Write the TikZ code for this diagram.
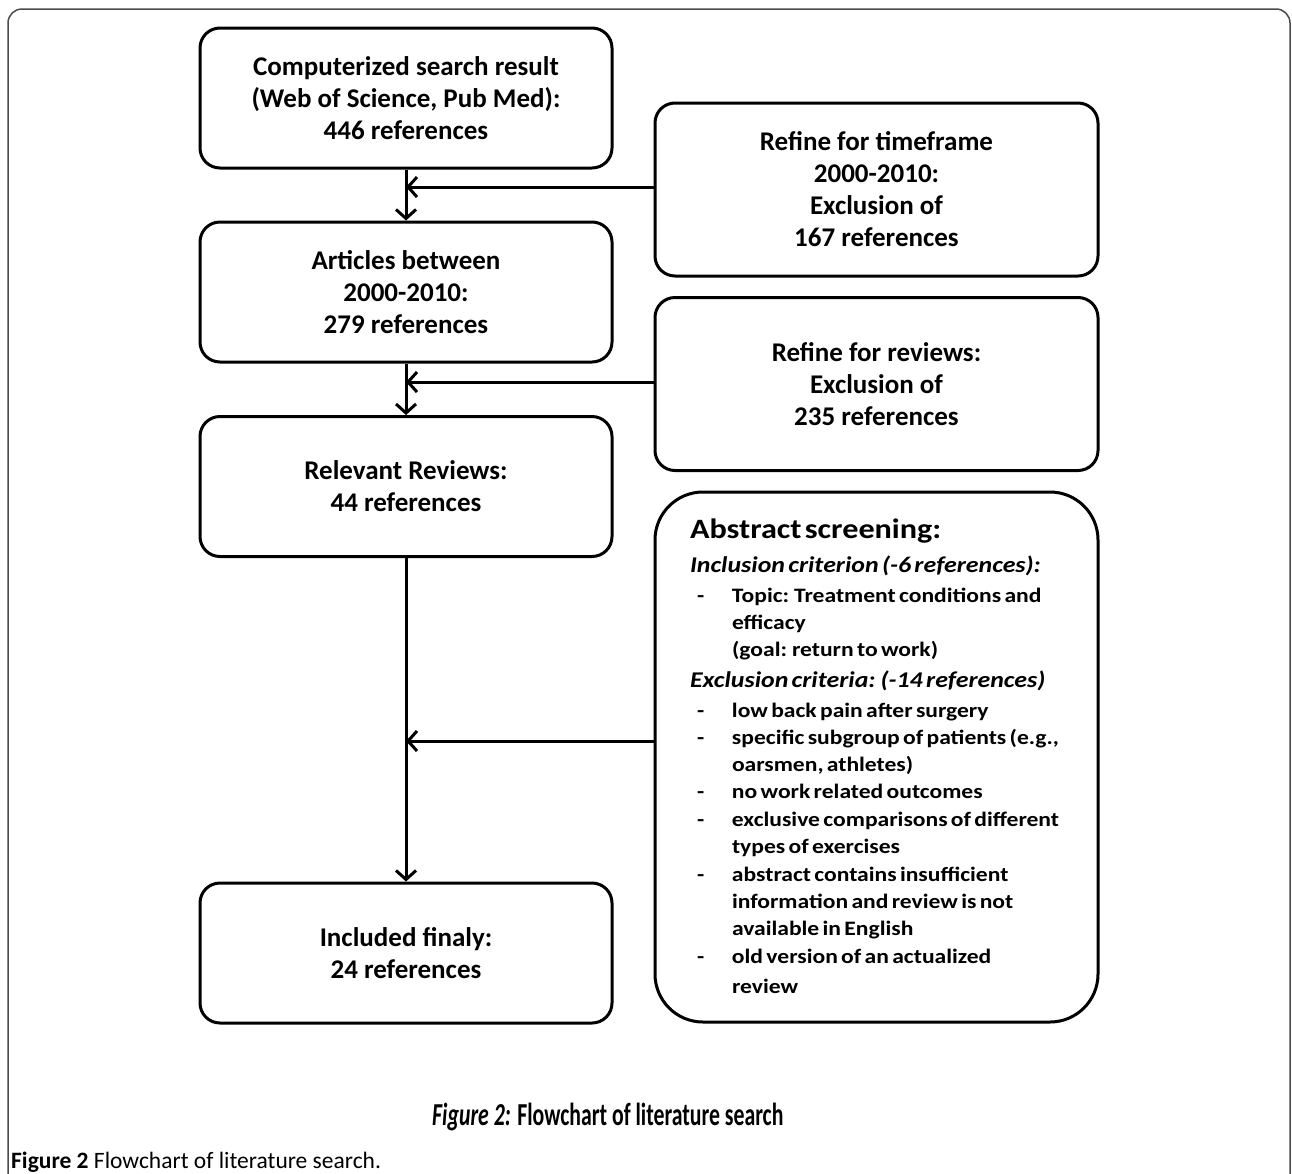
\documentclass[tikz,border=0pt]{standalone}
\usepackage{fontspec}
\setmainfont{Carlito}
\newfontfamily\capfont[FakeStretch=0.68]{Carlito}
\newfontfamily\absfont[FakeStretch=1.15]{Carlito}
\usetikzlibrary{arrows.meta}
\newcommand\itmline[2]{{\absfont\fontsize{20.5}{#1}\selectfont\bfseries\hspace*{7pt}\makebox[35pt][l]{-}#2\par}}
\newcommand\cntline[2]{{\absfont\fontsize{20.5}{#1}\selectfont\bfseries\hspace*{42pt}#2\par}}
\begin{document}
\begin{tikzpicture}[x=1pt,y=-1pt,
  box/.style={draw, line width=3pt, rounded corners=20pt, minimum width=412pt, minimum height=140pt,
    align=center, font=\fontsize{27}{32}\selectfont\bfseries, inner sep=0pt},
  rbox/.style={box, minimum width=443pt, minimum height=173pt},
  abox/.style={draw, line width=3pt, rounded corners=48pt, minimum height=530pt,
    text width=373pt, inner xsep=35pt, inner ysep=0pt, align=left},
  flow/.style={line width=3pt, -{Straight Barb[length=9pt,width=20pt,line width=3pt]}},
  frame/.style={line width=1.5pt, draw=black!70, rounded corners=14pt}
]
\useasboundingbox (0,0) rectangle (1292,1173);
\draw[frame] (8,1260) -- (8,9) -- (1290,9) -- (1290,1260);

\node[box] (n1) at (406,98) {Computerized search result\\(Web of Science, Pub Med):\\446 references};
\node[box] (n2) at (406,292) {Articles between\\2000-2010:\\279 references};
\node[box] (n3) at (406,486.5) {Relevant Reviews:\\44 references};
\node[box] (n4) at (406,953) {Included finaly:\\24 references};

\node[rbox] (r1) at (876.5,189.5) {Refine for timeframe\\2000-2010:\\Exclusion of\\167 references};
\node[rbox] (r2) at (876.5,384) {Refine for reviews:\\Exclusion of\\235 references};

\node[abox] (r3) at (876.5,757) {\parindent=0pt
{\absfont\fontsize{28}{30}\selectfont\bfseries Abstract screening:\par}
{\absfont\fontsize{22.5}{34}\selectfont\bfseries\itshape Inclusion criterion (-6 references):\par}
\itmline{30}{Topic: Treatment conditions and}
\cntline{27}{efficacy}
\cntline{27}{(goal: return to work)}
{\absfont\fontsize{22.5}{31}\selectfont\bfseries\itshape Exclusion criteria: (-14 references)\par}
\itmline{30}{low back pain after surgery}
\itmline{27}{specific subgroup of patients (e.g.,}
\cntline{27}{oarsmen, athletes)}
\itmline{27}{no work related outcomes}
\itmline{28}{exclusive comparisons of different}
\cntline{27}{types of exercises}
\itmline{28}{abstract contains insufficient}
\cntline{27}{information and review is not}
\cntline{27}{available in English}
\itmline{28}{old version of an actualized}
\cntline{30}{review\rule[-2pt]{0pt}{2pt}}};

\draw[flow] (n1.south) -- (n2.north);
\draw[flow] ([yshift=2.5pt]r1.west) -- ([yshift=2.5pt]n1.south |- r1.west);
\draw[flow] (n2.south) -- (n3.north);
\draw[flow] ([yshift=2pt]r2.west) -- ([yshift=2pt]n2.south |- r2.west);
\draw[flow] (n3.south) -- (n4.north);
\draw[flow] ([yshift=16pt]r3.west) -- ([yshift=16pt]n3.south |- r3.west);

\node[anchor=base west, inner sep=0pt] (cap) at (432,1125)
  {\capfont\fontsize{32}{32}\selectfont\bfseries\textit{Figure 2:} Flowchart of literature search};
\node[anchor=base west, inner sep=0pt] (legend) at (11,1168)
  {\fontsize{23.5}{24}\selectfont\textbf{Figure 2} Flowchart of literature search.};
\end{tikzpicture}
\end{document}
